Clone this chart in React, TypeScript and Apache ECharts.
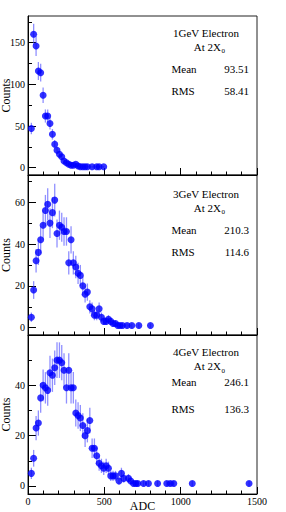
import React, { useEffect, useRef } from "react";
import * as echarts from "echarts";

// ---- data ----
const adc1GeV = [22, 37, 53, 68, 83, 99, 114, 129, 144, 160, 175, 190, 206, 221, 236, 252, 267, 282, 297, 313, 328, 343, 359, 374, 389, 420, 450, 466, 496];
const counts1GeV = [47, 160, 146, 116, 114, 87, 62, 62, 53, 40, 28, 21, 16, 13, 8, 6, 4, 3, 3, 4, 2, 1, 1, 1, 1, 1, 1, 1, 1];

const adc3GeV = [22, 37, 53, 68, 83, 99, 114, 129, 144, 160, 175, 190, 206, 221, 236, 252, 267, 282, 297, 313, 328, 343, 359, 374, 389, 405, 420, 435, 450, 466, 481, 496, 512, 527, 542, 557, 573, 588, 603, 619, 649, 680, 726, 802];
const counts3GeV = [5, 18, 32, 36, 42, 49, 56, 59, 50, 55, 61, 45, 49, 48, 46, 46, 31, 42, 31, 29, 26, 25, 20, 16, 17, 10, 9, 6, 6, 9, 5, 3, 3, 4, 3, 2, 2, 1, 1, 1, 1, 1, 1, 1];

const adc4GeV = [22, 37, 53, 68, 83, 99, 114, 129, 144, 160, 175, 190, 206, 221, 236, 252, 267, 282, 297, 313, 328, 343, 359, 374, 389, 405, 420, 435, 450, 466, 481, 496, 512, 527, 542, 557, 573, 596, 612, 627, 658, 673, 691, 706, 719, 757, 789, 849, 909, 932, 955, 1076, 1448];
const counts4GeV = [5, 11, 23, 25, 35, 40, 39, 38, 45, 44, 47, 50, 50, 49, 46, 39, 46, 39, 39, 29, 28, 27, 24, 20, 22, 26, 15, 15, 12, 9, 8, 7, 8, 7, 4, 4, 4, 2, 5, 3, 3, 2, 1, 1, 1, 1, 1, 1, 1, 1, 1, 1, 1];

const xTickValues = [0, 500, 1000, 1500];
const yTicks1 = [0, 50, 100, 150];
const yMinor1 = [25, 75, 125, 175];
const yTicks2 = [0, 20, 40, 60];
const yMinor2 = [10, 30, 50, 70];
const yTicks3 = [0, 20, 40];
const yMinor3 = [10, 30, 50];

const titles = ["1GeV Electron", "3GeV Electron", "4GeV Electron"];
const means = ["93.51", "210.3", "246.1"];
const rmsValues = ["58.41", "114.6", "136.3"];

// ---- layout (styles / positions) ----
const FONT = '"Liberation Serif", "DejaVu Serif", serif';
const GRID_LEFT = 28;
const GRID_WIDTH = 229;
const panels = [
  { x: adc1GeV, y: counts1GeV, ticks: yTicks1, minor: yMinor1, min: -8.8, max: 182, top: 16, height: 159,
    tTitle: 32.5, tAt: 46.5, tMean: 69, tRms: 90.8 },
  { x: adc3GeV, y: counts3GeV, ticks: yTicks2, minor: yMinor2, min: -3.5, max: 73, top: 175, height: 160,
    tTitle: 194, tAt: 207.5, tMean: 230.3, tRms: 252 },
  { x: adc4GeV, y: counts4GeV, ticks: yTicks3, minor: yMinor3, min: -3.2, max: 60, top: 335, height: 159,
    tTitle: 352, tAt: 366, tMean: 382, tRms: 408.7 },
];

export default function App() {
  const ref = useRef<HTMLDivElement>(null);

  useEffect(() => {
    if (!ref.current) return;
    const chart = echarts.init(ref.current, undefined, { renderer: "svg" });

    const grid: any[] = [];
    const xAxis: any[] = [];
    const yAxis: any[] = [];
    const series: any[] = [];
    const graphic: any[] = [];

    panels.forEach((p, i) => {
      grid.push({
        left: GRID_LEFT, top: p.top, width: GRID_WIDTH, height: p.height,
        show: true, borderColor: "#222", borderWidth: 1, backgroundColor: "transparent",
      });
      xAxis.push({
        type: "value", gridIndex: i, min: 0, max: 1500, interval: 500,
        axisLine: { show: true, onZero: false, lineStyle: { color: "#000", width: 1 } },
        axisTick: { show: true, inside: true, length: 7, lineStyle: { color: "#000" } },
        minorTick: { show: true, splitNumber: 5, length: 3.5, lineStyle: { color: "#000" } },
        splitLine: { show: false }, minorSplitLine: { show: false },
        axisLabel: { show: i === 2, margin: 2, fontFamily: FONT, fontSize: 10, color: "#000",
          customValues: xTickValues, formatter: (v: number) => String(v) },
      });
      yAxis.push({
        type: "value", gridIndex: i, min: p.min, max: p.max, position: "left",
        axisLine: { show: true, onZero: false, lineStyle: { color: "#000", width: 1 } },
        axisTick: { show: true, inside: true, length: 8, customValues: p.ticks, lineStyle: { color: "#000" } },
        axisLabel: { show: true, margin: 3, fontFamily: FONT, fontSize: 10, color: "#000",
          customValues: p.ticks, formatter: (v: number) => String(v) },
        splitLine: { show: false },
      });
      yAxis.push({
        type: "value", gridIndex: i, min: p.min, max: p.max, position: "left", offset: 0,
        axisLine: { show: false },
        axisTick: { show: true, inside: true, length: 4, customValues: p.minor, lineStyle: { color: "#000" } },
        axisLabel: { show: false },
        splitLine: { show: false },
      });

      const errData = p.x.map((v, k) => [v, p.y[k], Math.sqrt(p.y[k])]);
      series.push({
        type: "custom", xAxisIndex: i, yAxisIndex: i * 2, z: 2,
        data: errData,
        renderItem: (_params: any, api: any) => {
          const x = api.value(0);
          const y = api.value(1);
          const e = api.value(2);
          const a = api.coord([x, y - e]);
          const b = api.coord([x, y + e]);
          return {
            type: "line",
            shape: { x1: a[0], y1: a[1], x2: b[0], y2: b[1] },
            style: { stroke: "rgba(70,70,255,0.6)", lineWidth: 1.3 },
          };
        },
      });
      series.push({
        type: "scatter", xAxisIndex: i, yAxisIndex: i * 2, z: 3,
        symbol: "circle", symbolSize: 7,
        itemStyle: { color: "#0000ff" },
        data: p.x.map((v, k) => [v, p.y[k]]),
      });

      // Y axis title
      graphic.push({
        type: "text", x: 6, y: p.top + p.height / 2, rotation: Math.PI / 2,
        style: { text: "Counts", font: `12px ${FONT}`, fill: "#000", align: "center", verticalAlign: "middle" },
      });
      // Stats box
      graphic.push({
        type: "text", x: 206, y: p.tTitle,
        style: { text: titles[i], font: `11px ${FONT}`, fill: "#000", align: "center", verticalAlign: "middle" },
      });
      graphic.push({
        type: "text", x: 221, y: p.tAt,
        style: { text: "At 2X", font: `11px ${FONT}`, fill: "#000", align: "right", verticalAlign: "middle" },
      });
      graphic.push({
        type: "text", x: 221.5, y: p.tAt + 4.5,
        style: { text: "0", font: `7px ${FONT}`, fill: "#000", align: "left", verticalAlign: "middle" },
      });
      graphic.push({
        type: "text", x: 171.5, y: p.tMean,
        style: { text: "Mean", font: `11px ${FONT}`, fill: "#000", align: "left", verticalAlign: "middle" },
      });
      graphic.push({
        type: "text", x: 249, y: p.tMean,
        style: { text: means[i], font: `11px ${FONT}`, fill: "#000", align: "right", verticalAlign: "middle" },
      });
      graphic.push({
        type: "text", x: 171.5, y: p.tRms,
        style: { text: "RMS", font: `11px ${FONT}`, fill: "#000", align: "left", verticalAlign: "middle" },
      });
      graphic.push({
        type: "text", x: 249, y: p.tRms,
        style: { text: rmsValues[i], font: `11px ${FONT}`, fill: "#000", align: "right", verticalAlign: "middle" },
      });
    });

    graphic.push({
      type: "text", x: 142.5, y: 506,
      style: { text: "ADC", font: `12px ${FONT}`, fill: "#000", align: "center", verticalAlign: "middle" },
    });

    chart.setOption({
      animation: false,
      backgroundColor: "#ffffff",
      grid, xAxis, yAxis, series, graphic,
    });

    return () => chart.dispose();
  }, []);

  return (
    <div
      ref={ref}
      style={{ position: "absolute", left: 0, top: 0, width: 286, height: 512 }}
    />
  );
}
